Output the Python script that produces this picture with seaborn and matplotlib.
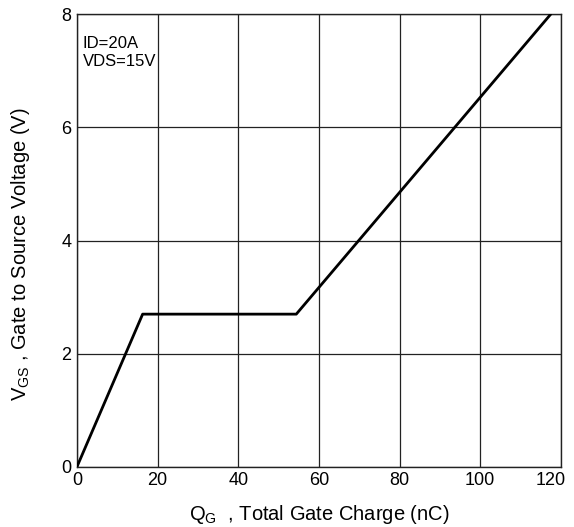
import matplotlib
matplotlib.use("Agg")
import matplotlib.pyplot as plt
import matplotlib.transforms as mtransforms
import seaborn as sns
import pandas as pd

qg = [0, 16.3, 54.4, 117.5]
vgs = [0, 2.7, 2.7, 8.0]
xticks = [0, 20, 40, 60, 80, 100, 120]
yticks = [0, 2, 4, 6, 8]

sns.set_style("white")
plt.rcParams['font.family'] = ['Liberation Sans', 'DejaVu Sans']
plt.rcParams['mathtext.fontset'] = 'custom'
plt.rcParams['mathtext.rm'] = 'Liberation Sans'
plt.rcParams['mathtext.it'] = 'Liberation Sans'
plt.rcParams['text.color'] = 'black'
plt.rcParams['axes.labelcolor'] = 'black'

fig = plt.figure(figsize=(5.74, 5.27), dpi=100)
ax = fig.add_axes([0.134, 0.114, 0.843, 0.859])

df = pd.DataFrame({"qg": qg, "vgs": vgs})
sns.lineplot(data=df, x="qg", y="vgs", ax=ax, color="black", linewidth=2, sort=False, zorder=3)

ax.set_xlim(0, 120)
ax.set_ylim(0, 8)
ax.set_xticks(xticks)
ax.set_yticks(yticks)
ax.grid(True, color="#222222", linewidth=0.9)
for s in ax.spines.values():
    s.set_color("#222222")
    s.set_linewidth(1.0)
ax.tick_params(labelsize=13, length=0, pad=4, colors="black")
# shift the last x tick label slightly left so it stays inside the figure
last = ax.get_xticklabels()[-1]
last.set_transform(last.get_transform() + mtransforms.ScaledTranslation(-10 / 100, 0, fig.dpi_scale_trans))

ax.set_xlabel(r"Q$_{\mathregular{G}}$  , Total Gate Charge (nC)", fontsize=14.5, labelpad=10)
ax.set_ylabel(r"V$_{\mathregular{GS}}$ , Gate to Source Voltage (V)", fontsize=14.5)
ax.yaxis.set_label_coords(-0.093, 0.47)
ax.text(0.012, 0.952, "ID=20A\nVDS=15V", transform=ax.transAxes, fontsize=12,
        va="top", ha="left", linespacing=1.25)

fig.savefig("out.png", dpi=100)
